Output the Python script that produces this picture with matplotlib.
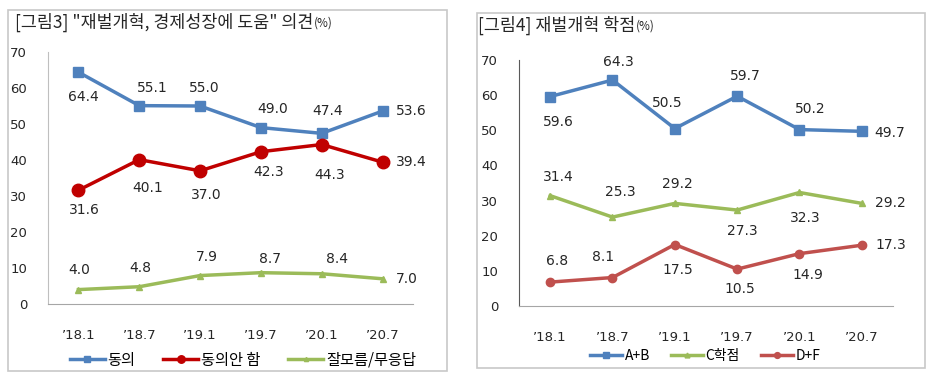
import matplotlib.pyplot as plt
from matplotlib.patches import Rectangle

plt.rcParams['font.family'] = ['DejaVu Sans', 'Noto Sans CJK KR']

# data
periods = ["’18.1", "’18.7", "’19.1", "’19.7", "’20.1", "’20.7"]

agree = [64.4, 55.1, 55.0, 49.0, 47.4, 53.6]
disagree = [31.6, 40.1, 37.0, 42.3, 44.3, 39.4]
dont_know = [4.0, 4.8, 7.9, 8.7, 8.4, 7.0]

grade_ab = [59.6, 64.3, 50.5, 59.7, 50.2, 49.7]
grade_c = [31.4, 25.3, 29.2, 27.3, 32.3, 29.2]
grade_df = [6.8, 8.1, 17.5, 10.5, 14.9, 17.3]

# label offsets in pixels (dx, dy up)
off_agree = [(5, -25), (13, 18), (4, 18), (12, 19), (6, 22), (29, 0)]
off_disagree = [(6, -20), (8, -28), (6, -24), (8, -20), (8, -30), (29, 0)]
off_dk = [(1, 20), (1, 19), (7, 19), (9, 14), (15, 15), (24, 0)]

off_ab = [(8, -25), (6, 18), (-8, 26), (8, 20), (11, 21), (28, -2)]
off_c = [(8, 19), (8, 25), (3, 19), (5, -21), (6, -26), (29, 0)]
off_df = [(7, 21), (-9, 21), (3, -25), (3, -20), (8, -21), (29, 0)]

W, H = 937, 386
fig = plt.figure(figsize=(W / 100, H / 100), dpi=100)

KR = ['Noto Sans CJK KR', 'DejaVu Sans']


def px_rect(x0, y0, x1, y1):
    return [x0 / W, 1 - y1 / H, (x1 - x0) / W, (y1 - y0) / H]


def panel_box(x0, y0, x1, y1):
    fig.patches.append(Rectangle((x0 / W, 1 - y1 / H), (x1 - x0) / W, (y1 - y0) / H,
                                 transform=fig.transFigure, fill=False,
                                 edgecolor='#c8c8c8', linewidth=1.2))


def style_axes(ax, spine_color):
    ax.set_xlim(-0.5, 5.5)
    ax.set_ylim(0, 70)
    ax.set_yticks(range(0, 71, 10))
    ax.set_xticks(range(len(periods)))
    ax.set_xticklabels(periods)
    for s in ['top', 'right']:
        ax.spines[s].set_visible(False)
    ax.spines['left'].set_color(spine_color)
    ax.spines['bottom'].set_color('#a6a6a6')
    ax.tick_params(axis='both', length=0, labelsize=9.5, labelcolor='#262626')
    ax.tick_params(axis='y', pad=15)
    ax.tick_params(axis='x', pad=18)
    ax.patch.set_alpha(0)


def plot_series(ax, vals, offs, color, marker, ms, label):
    x = range(len(vals))
    ax.plot(x, vals, color=color, marker=marker, markersize=ms, linewidth=2.5,
            label=label)
    for i, v in enumerate(vals):
        ax.annotate(f"{v:.1f}", (i, v), xytext=offs[i], textcoords='offset pixels',
                    ha='center', va='center', fontsize=10, color='#262626')


def title(x, y, main, fs=12.5):
    t = fig.text(x / W, 1 - y / H, main, family=KR, fontsize=fs, color='#262626',
                 va='center', ha='left')
    fig.canvas.draw()
    bb = t.get_window_extent()
    fig.text(bb.x1 / W + 0.001, 1 - (y + 1) / H, "(%)", family=KR, fontsize=8.5,
             color='#262626', va='center', ha='left')


# left panel
panel_box(8, 10, 447, 371)
ax1 = fig.add_axes(px_rect(48, 52, 413, 304))
style_axes(ax1, '#bfbfbf')
plot_series(ax1, agree, off_agree, '#4f81bd', 's', 7, '동의')
plot_series(ax1, disagree, off_disagree, '#c00000', 'o', 9, '동의안 함')
plot_series(ax1, dont_know, off_dk, '#9bbb59', '^', 5, '잘모름/무응답')
ax1.legend(loc='center', bbox_to_anchor=(243 / W, 1 - 360 / H),
           bbox_transform=fig.transFigure, ncol=3, frameon=False,
           prop={'family': KR, 'size': 11}, handlelength=2.3, markerscale=0.6,
           columnspacing=1.8, handletextpad=0.2)
title(15, 22, '[그림3] "재벌개혁, 경제성장에 도움" 의견')

# right panel
panel_box(477, 13, 925, 368)
ax2 = fig.add_axes(px_rect(519, 60, 893, 306))
style_axes(ax2, '#595959')
plot_series(ax2, grade_ab, off_ab, '#4f81bd', 's', 7, 'A+B')
plot_series(ax2, grade_c, off_c, '#9bbb59', '^', 5, 'C학점')
plot_series(ax2, grade_df, off_df, '#c0504d', 'o', 6, 'D+F')
ax2.legend(loc='center', bbox_to_anchor=(705 / W, 1 - 356 / H),
           bbox_transform=fig.transFigure, ncol=3, frameon=False,
           prop={'family': KR, 'size': 10}, handlelength=2.3, markerscale=0.7,
           columnspacing=1.5, handletextpad=0.2)
title(478, 25, '[그림4] 재벌개혁 학점')

fig.savefig('out.png', dpi=100)
